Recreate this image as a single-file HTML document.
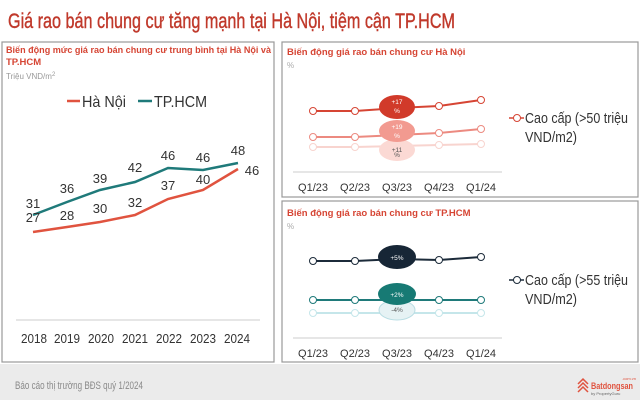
<!DOCTYPE html>
<html><head><meta charset="utf-8"><style>
html,body{margin:0;padding:0;background:#fff;}
svg{display:block;font-family:"Liberation Sans",sans-serif;}
</style></head><body>
<svg width="640" height="400" viewBox="0 0 640 400" xmlns="http://www.w3.org/2000/svg">
<rect width="640" height="400" fill="#fff"/>
<text x="8" y="28" font-size="21" fill="#c0392b" stroke="#c0392b" stroke-width="0.4" textLength="447" lengthAdjust="spacingAndGlyphs">Giá rao bán chung cư tăng mạnh tại Hà Nội, tiệm cận TP.HCM</text>
<!-- panels -->
<rect x="2" y="42" width="272" height="320" fill="#fff" stroke="#999" stroke-width="1.2"/>
<rect x="282" y="42" width="356" height="155" fill="#fff" stroke="#999" stroke-width="1.2"/>
<rect x="282" y="201" width="356" height="161" fill="#fff" stroke="#999" stroke-width="1.2"/>
<!-- footer -->
<rect x="0" y="364" width="640" height="36" fill="#ebebeb"/>
<text x="15" y="389" font-size="11" fill="#8a8a8a" textLength="128" lengthAdjust="spacingAndGlyphs">Báo cáo thị trường BĐS quý 1/2024</text>
<g fill="none" stroke="#e0533f" stroke-width="1.5"><path d="M578 384 l5 -5 l5 5 M578 388 l5 -5 l5 5 M578 392 l5 -5 l5 5"/></g>
<text x="591" y="389" font-size="9" font-weight="bold" fill="#e0533f" textLength="42" lengthAdjust="spacingAndGlyphs">Batdongsan</text>
<text x="622" y="380" font-size="4" fill="#e0533f">.com.vn</text>
<text x="591" y="395" font-size="4" fill="#666">by PropertyGuru</text>

<!-- left chart -->
<text x="6" y="53" font-size="9.5" font-weight="bold" fill="#d64534" textLength="265" lengthAdjust="spacingAndGlyphs">Biến động mức giá rao bán chung cư trung bình tại Hà Nội và</text>
<text x="6" y="65" font-size="9.5" font-weight="bold" fill="#d64534">TP.HCM</text>
<text x="6" y="79" font-size="8" fill="#999">Triệu VND/m<tspan font-size="6" dy="-3">2</tspan></text>
<line x1="67" y1="101" x2="80" y2="101" stroke="#e0533f" stroke-width="2.5"/>
<text x="82" y="107" font-size="16" fill="#333" textLength="44" lengthAdjust="spacingAndGlyphs">Hà Nội</text>
<line x1="138" y1="101" x2="152" y2="101" stroke="#1f7a7a" stroke-width="2.5"/>
<text x="154" y="107" font-size="16" fill="#333" textLength="53" lengthAdjust="spacingAndGlyphs">TP.HCM</text>
<polyline points="33,215 67,202 100,190 135,182 168,168 203,170 238,163" fill="none" stroke="#1f7a7a" stroke-width="2.5"/>
<polyline points="33,232 67,227 100,222 135,215 168,199 203,190 238,169" fill="none" stroke="#e0533f" stroke-width="2.5"/>
<g font-size="13" fill="#333" text-anchor="middle">
<text x="33" y="208">31</text><text x="33" y="222">27</text>
<text x="67" y="193">36</text><text x="67" y="220">28</text>
<text x="100" y="183">39</text><text x="100" y="213">30</text>
<text x="135" y="172">42</text><text x="135" y="207">32</text>
<text x="168" y="160">46</text><text x="168" y="190">37</text>
<text x="203" y="162">46</text><text x="203" y="184">40</text>
<text x="238" y="155">48</text><text x="252" y="175">46</text>
</g>
<line x1="16" y1="320" x2="260" y2="320" stroke="#ccc" stroke-width="1"/>
<g font-size="13" fill="#333" text-anchor="middle">
<text x="34" y="343" textLength="26" lengthAdjust="spacingAndGlyphs">2018</text><text x="67" y="343" textLength="26" lengthAdjust="spacingAndGlyphs">2019</text><text x="101" y="343" textLength="26" lengthAdjust="spacingAndGlyphs">2020</text><text x="135" y="343" textLength="26" lengthAdjust="spacingAndGlyphs">2021</text><text x="169" y="343" textLength="26" lengthAdjust="spacingAndGlyphs">2022</text><text x="203" y="343" textLength="26" lengthAdjust="spacingAndGlyphs">2023</text><text x="237" y="343" textLength="26" lengthAdjust="spacingAndGlyphs">2024</text>
</g>

<!-- right top -->
<text x="287" y="55" font-size="9.5" font-weight="bold" fill="#d64534">Biến động giá rao bán chung cư Hà Nội</text>
<text x="287" y="68" font-size="8" fill="#aaa">%</text>
<polyline points="313,147 355,147 397,146 439,145 481,144" fill="none" stroke="#f8d4cf" stroke-width="2"/>
<polyline points="313,137 355,137 397,135 439,133 481,129" fill="none" stroke="#ec8a80" stroke-width="2"/>
<polyline points="313,111 355,111 397,108 439,106 481,100" fill="none" stroke="#d64534" stroke-width="2"/>
<ellipse cx="397" cy="150" rx="18" ry="11" fill="#fbd9d4"/>
<ellipse cx="397" cy="131" rx="18" ry="11" fill="#f29a90"/>
<ellipse cx="397" cy="107" rx="18" ry="12" fill="#d13a2a"/>
<g fill="#fff" stroke-width="1">
<circle cx="313" cy="147" r="3.5" stroke="#f8d4cf"/><circle cx="355" cy="147" r="3.5" stroke="#f8d4cf"/><circle cx="439" cy="145" r="3.5" stroke="#f8d4cf"/><circle cx="481" cy="144" r="3.5" stroke="#f8d4cf"/>
<circle cx="313" cy="137" r="3.5" stroke="#ec8a80"/><circle cx="355" cy="137" r="3.5" stroke="#ec8a80"/><circle cx="439" cy="133" r="3.5" stroke="#ec8a80"/><circle cx="481" cy="129" r="3.5" stroke="#ec8a80"/>
<circle cx="313" cy="111" r="3.5" stroke="#d64534"/><circle cx="355" cy="111" r="3.5" stroke="#d64534"/><circle cx="439" cy="106" r="3.5" stroke="#d64534"/><circle cx="481" cy="100" r="3.5" stroke="#d64534"/>
</g>
<g font-size="6.5" text-anchor="middle">
<text x="397" y="104" fill="#fff">+17</text><text x="397" y="113" fill="#fff">%</text>
<text x="397" y="129" fill="#fff">+19</text><text x="397" y="138" fill="#fff">%</text>
<text x="397" y="152" fill="#555">+11</text><text x="397" y="157" fill="#555">%</text>
</g>
<line x1="293" y1="172" x2="502" y2="172" stroke="#ccc"/>
<g font-size="11" fill="#333" text-anchor="middle">
<text x="313" y="191">Q1/23</text><text x="355" y="191">Q2/23</text><text x="397" y="191">Q3/23</text><text x="439" y="191">Q4/23</text><text x="481" y="191">Q1/24</text>
</g>
<line x1="509" y1="118" x2="524" y2="118" stroke="#d64534" stroke-width="1.5"/>
<circle cx="517" cy="118" r="3.5" fill="#fff" stroke="#d64534"/>
<text x="525" y="123" font-size="14.5" fill="#333" textLength="103" lengthAdjust="spacingAndGlyphs">Cao cấp (&gt;50 triệu</text>
<text x="525" y="142" font-size="14.5" fill="#333" textLength="52" lengthAdjust="spacingAndGlyphs">VND/m2)</text>

<!-- right bottom -->
<text x="287" y="216" font-size="9.5" font-weight="bold" fill="#d64534">Biến động giá rao bán chung cư TP.HCM</text>
<text x="287" y="229" font-size="8" fill="#aaa">%</text>
<polyline points="313,313 355,313 397,313 439,313 481,313" fill="none" stroke="#c5e6ea" stroke-width="2"/>
<polyline points="313,300 355,300 397,300 439,300 481,300" fill="none" stroke="#1f7a7a" stroke-width="2"/>
<polyline points="313,261 355,261 397,259 439,260 481,257" fill="none" stroke="#1c2b3a" stroke-width="2"/>
<ellipse cx="397" cy="310" rx="18" ry="10" fill="#e6f2f4" stroke="#b9dde3"/>
<ellipse cx="397" cy="294" rx="19" ry="11" fill="#177a74"/>
<ellipse cx="397" cy="257" rx="19" ry="12" fill="#172636"/>
<g fill="#fff" stroke-width="1">
<circle cx="313" cy="313" r="3.5" stroke="#c5e6ea"/><circle cx="355" cy="313" r="3.5" stroke="#c5e6ea"/><circle cx="439" cy="313" r="3.5" stroke="#c5e6ea"/><circle cx="481" cy="313" r="3.5" stroke="#c5e6ea"/>
<circle cx="313" cy="300" r="3.5" stroke="#1f7a7a"/><circle cx="355" cy="300" r="3.5" stroke="#1f7a7a"/><circle cx="439" cy="300" r="3.5" stroke="#1f7a7a"/><circle cx="481" cy="300" r="3.5" stroke="#1f7a7a"/>
<circle cx="313" cy="261" r="3.5" stroke="#1c2b3a"/><circle cx="355" cy="261" r="3.5" stroke="#1c2b3a"/><circle cx="439" cy="260" r="3.5" stroke="#1c2b3a"/><circle cx="481" cy="257" r="3.5" stroke="#1c2b3a"/>
</g>
<g font-size="6.5" text-anchor="middle">
<text x="397" y="260" fill="#fff">+5%</text>
<text x="397" y="297" fill="#fff">+2%</text>
<text x="397" y="312" fill="#555">-4%</text>
</g>
<line x1="293" y1="338" x2="502" y2="338" stroke="#ccc"/>
<g font-size="11" fill="#333" text-anchor="middle">
<text x="313" y="357">Q1/23</text><text x="355" y="357">Q2/23</text><text x="397" y="357">Q3/23</text><text x="439" y="357">Q4/23</text><text x="481" y="357">Q1/24</text>
</g>
<line x1="509" y1="280" x2="524" y2="280" stroke="#1c2b3a" stroke-width="1.5"/>
<circle cx="517" cy="280" r="3.5" fill="#fff" stroke="#1c2b3a"/>
<text x="525" y="285" font-size="14.5" fill="#333" textLength="103" lengthAdjust="spacingAndGlyphs">Cao cấp (&gt;55 triệu</text>
<text x="525" y="304" font-size="14.5" fill="#333" textLength="52" lengthAdjust="spacingAndGlyphs">VND/m2)</text>
</svg>
</body></html>
